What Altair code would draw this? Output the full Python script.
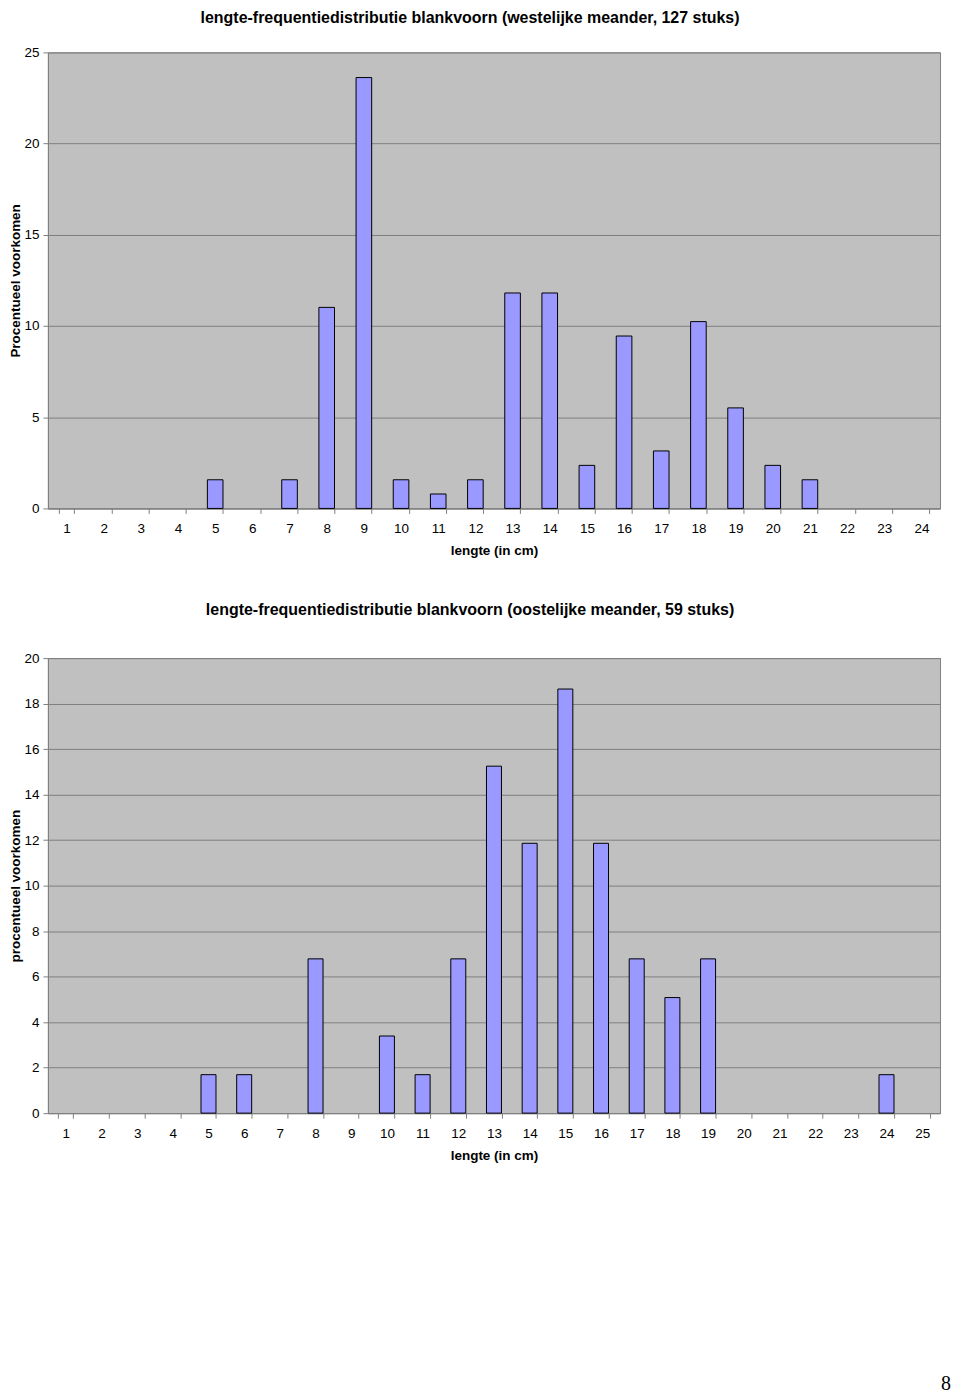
import altair as alt
import pandas as pd

# ---- data (percentages) ----
west_lengths = [5, 7, 8, 9, 10, 11, 12, 13, 14, 15, 16, 17, 18, 19, 20, 21]
west_pct = [1.57, 1.57, 11.02, 23.62, 1.57, 0.79, 1.57, 11.81, 11.81, 2.36, 9.45, 3.15, 10.24, 5.51, 2.36, 1.57]
west_categories = list(range(1, 25))
west_y_ticks = [0, 5, 10, 15, 20, 25]

oost_lengths = [5, 6, 8, 10, 11, 12, 13, 14, 15, 16, 17, 18, 19, 24]
oost_pct = [1.69, 1.69, 6.78, 3.39, 1.69, 6.78, 15.25, 11.86, 18.64, 11.86, 6.78, 5.08, 6.78, 1.69]
oost_categories = list(range(1, 26))
oost_y_ticks = [0, 2, 4, 6, 8, 10, 12, 14, 16, 18, 20]

page_number = ["8"]

FONT = "Liberation Sans"


def panel(lengths, pct, cats, yticks, ymax, title, ytitle, title_offset):
    df = pd.DataFrame({"lengte": lengths, "pct": pct})
    bars = alt.Chart(df).mark_bar(fill="#9999FF", stroke="#000000", strokeWidth=1).encode(
        x=alt.X(
            "lengte:O",
            scale=alt.Scale(domain=cats, paddingInner=0.58, paddingOuter=0.29),
            axis=alt.Axis(
                title="lengte (in cm)",
                labelAngle=0,
                tickBand="extent",
                tickSize=5,
                tickColor="#808080",
                domainColor="#808080",
                labelPadding=8,
                labelFont=FONT,
                labelFontSize=13.5,
                labelColor="#000000",
                titleFont=FONT,
                titleFontSize=13.5,
                titleFontWeight="bold",
                titleColor="#000000",
                titlePadding=9,
                grid=False,
            ),
        ),
        y=alt.Y(
            "pct:Q",
            scale=alt.Scale(domain=[0, ymax], nice=False),
            axis=alt.Axis(
                values=yticks,
                title=ytitle,
                tickSize=5,
                tickColor="#808080",
                domainColor="#808080",
                labelPadding=4,
                labelFont=FONT,
                labelFontSize=13.5,
                labelColor="#000000",
                titleFont=FONT,
                titleFontSize=13.5,
                titleFontWeight="bold",
                titleColor="#000000",
                titlePadding=1,
                grid=True,
                gridColor="#808080",
                gridWidth=1,
            ),
        ),
    )
    return bars, alt.TitleParams(
        text=title,
        font=FONT,
        fontSize=16,
        fontWeight="bold",
        color="#000000",
        anchor="middle",
        dx=-24,
        offset=title_offset,
    )


top_bars, top_title = panel(
    west_lengths, west_pct, west_categories, west_y_ticks, 25,
    "lengte-frequentiedistributie blankvoorn (westelijke meander, 127 stuks)",
    "Procentueel voorkomen", 19,
)
top = top_bars.properties(width=894, height=457, title=top_title)

bot_bars, bot_title = panel(
    oost_lengths, oost_pct, oost_categories, oost_y_ticks, 20,
    "lengte-frequentiedistributie blankvoorn (oostelijke meander, 59 stuks)",
    "procentueel voorkomen", 33,
)
page = alt.Chart(pd.DataFrame({"p": page_number})).mark_text(
    font="Liberation Serif", fontSize=20, align="right", baseline="middle", color="#000000"
).encode(text="p:N", x=alt.value(905), y=alt.value(727))

bottom = alt.layer(bot_bars, page).properties(width=894, height=456, title=bot_title)

chart = alt.vconcat(top, bottom, spacing=43).configure(
    padding={"left": 0, "top": 0, "right": 0, "bottom": 0}
).configure_view(
    fill="#C0C0C0", stroke="#808080"
)

chart.save("out.html", embed_options={"renderer": "svg", "actions": False})
